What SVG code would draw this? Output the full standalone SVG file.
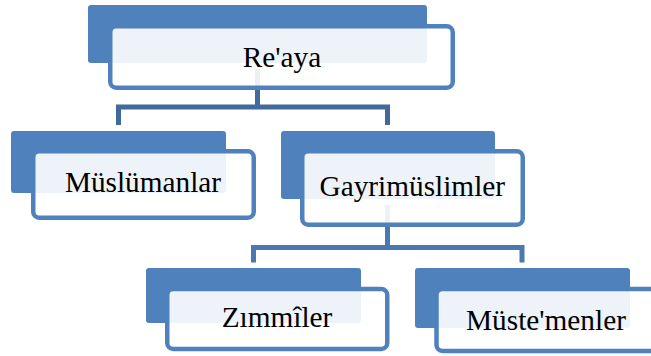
<svg xmlns="http://www.w3.org/2000/svg" width="651" height="356" viewBox="0 0 651 356">
<style>
.back{fill:#4F81BD;}
.front{fill:#FFFFFF;fill-opacity:0.9;stroke:#4F81BD;stroke-width:4.5;}
.conn{fill:none;stroke-width:5;stroke-linejoin:miter;}
.lbl{font-family:"Liberation Serif","Times New Roman",serif;font-size:29.3px;fill:#000000;text-anchor:middle;}
</style>
<rect width="651" height="356" fill="#FFFFFF"/>
<g id="connectors">
<path class="conn" stroke="#41699B" d="M257.5,69 V107 M118.5,125 V107 H387.5 V125"/>
<path class="conn" stroke="#4A78B0" d="M387.5,205 V247.5 M253.5,262.5 V247.5 H522 V262.5"/>
</g>
<g id="node-reaya">
<rect class="back" x="88" y="5" width="339" height="58" rx="3"/>
<rect class="front" x="110.25" y="26.25" width="342.5" height="61.5" rx="6"/>
<text class="lbl" x="282" y="66.5">Re'aya</text>
</g>
<g id="node-muslumanlar">
<rect class="back" x="11" y="131" width="215" height="62" rx="3"/>
<rect class="front" x="33.25" y="151.25" width="220.5" height="66.5" rx="6"/>
<text class="lbl" x="143" y="191.7">Müslümanlar</text>
</g>
<g id="node-gayrimuslimler">
<rect class="back" x="281" y="131" width="214" height="68" rx="3"/>
<rect class="front" x="302.25" y="151.25" width="220.5" height="73.5" rx="6"/>
<text class="lbl" x="412.3" y="196">Gayrimüslimler</text>
</g>
<g id="node-zimmiler">
<rect class="back" x="146" y="268" width="215" height="55" rx="3"/>
<rect class="front" x="167.25" y="289" width="220" height="60" rx="6"/>
<text class="lbl" x="277" y="326.7">Zımmîler</text>
</g>
<g id="node-mustemenler">
<rect class="back" x="415" y="268" width="215" height="60" rx="3"/>
<rect class="front" x="436.5" y="289" width="220" height="62" rx="6"/>
<text class="lbl" x="546" y="330.3">Müste'menler</text>
</g>
</svg>
